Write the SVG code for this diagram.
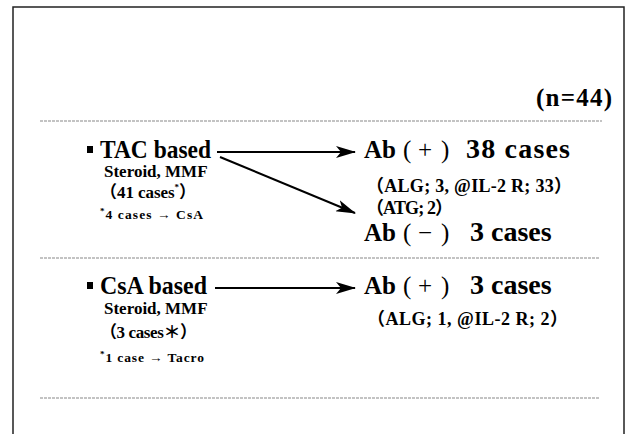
<svg xmlns="http://www.w3.org/2000/svg" width="626" height="434" viewBox="0 0 626 434">
<style>
text{font-family:"Liberation Serif","Noto Sans CJK JP",serif;font-weight:bold;fill:#000}
.big{font-size:25px}
.par{font-weight:normal}
.num{font-size:28px}
.mid{font-size:18px}
.lbl{font-size:17px}
.sm{font-size:13.5px}
.sup{font-size:9px}
.sep{stroke:#888;stroke-width:1.2;stroke-dasharray:3 1}
.conn{stroke:#000;stroke-width:2;fill:none}
</style>
<defs>
<marker id="ah" viewBox="0 0 20 12" refX="19" refY="6" markerWidth="20" markerHeight="12" markerUnits="userSpaceOnUse" orient="auto">
<path d="M0,0 L20,6 L0,12 L5,6 Z" fill="#000"/>
</marker>
</defs>
<rect x="13" y="7" width="611" height="450" fill="none" stroke="#222" stroke-width="1.5"/>
<text class="big" x="536" y="106" textLength="76">(n=44)</text>
<line class="sep" x1="40" y1="121" x2="602" y2="121"/>
<line class="sep" x1="40" y1="258" x2="600" y2="258"/>
<line class="sep" x1="40" y1="398" x2="600" y2="398"/>
<g id="tac">
<rect x="87" y="146" width="6" height="7" fill="#000"/>
<text class="big" x="100" y="158" textLength="111" lengthAdjust="spacingAndGlyphs">TAC based</text>
<text class="lbl" x="104" y="177">Steroid, MMF</text>
<text class="lbl" x="100" y="198" textLength="96">（41 cases<tspan class="sup" dy="-8">*</tspan><tspan dy="8">）</tspan></text>
<text class="sm" x="100" y="219" textLength="103"><tspan class="sup" dy="-5">*</tspan><tspan dy="5">4 cases → CsA</tspan></text>
</g>
<g id="abpos1">
<text class="big" x="364" y="158">Ab<tspan class="par" x="403">(</tspan><tspan class="par" x="418">+</tspan><tspan class="par" x="441">)</tspan><tspan class="num" x="466" textLength="104">38 cases</tspan></text>
<text class="mid" x="366" y="192" textLength="206">（ALG; 3, @IL-2 R; 33）</text>
<text class="mid" x="366" y="214" textLength="87">（ATG; 2）</text>
</g>
<g id="abneg">
<text class="big" x="364" y="241">Ab<tspan class="par" x="403">(</tspan><tspan class="par" x="418">−</tspan><tspan class="par" x="441">)</tspan><tspan class="num" x="470">3 cases</tspan></text>
</g>
<g id="csa">
<rect x="87" y="282" width="6" height="7" fill="#000"/>
<text class="big" x="100" y="294" textLength="107" lengthAdjust="spacingAndGlyphs">CsA based</text>
<text class="lbl" x="104" y="314">Steroid, MMF</text>
<text class="lbl" x="100" y="338" textLength="97">（3 cases＊）</text>
<text class="sm" x="100" y="362" textLength="104"><tspan class="sup" dy="-5">*</tspan><tspan dy="5">1 case → Tacro</tspan></text>
</g>
<g id="abpos2">
<text class="big" x="364" y="294">Ab<tspan class="par" x="403">(</tspan><tspan class="par" x="418">+</tspan><tspan class="par" x="441">)</tspan><tspan class="num" x="470">3 cases</tspan></text>
<text class="mid" x="367" y="325" textLength="201">（ALG; 1, @IL-2 R; 2）</text>
</g>
<g id="connectors">
<line class="conn" x1="217" y1="152" x2="355" y2="152" marker-end="url(#ah)"/>
<line class="conn" x1="220" y1="157" x2="355" y2="213" marker-end="url(#ah)"/>
<line class="conn" x1="215" y1="288" x2="355" y2="288" marker-end="url(#ah)"/>
</g>
</svg>
